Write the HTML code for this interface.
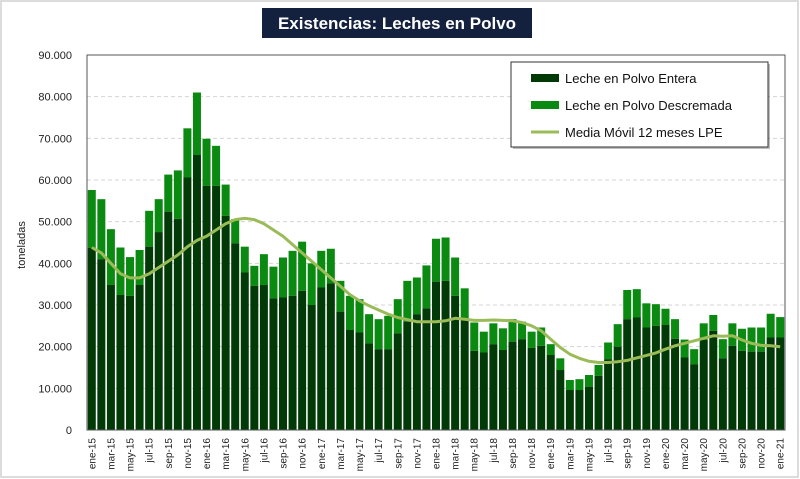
<!DOCTYPE html>
<html><head><meta charset="utf-8"><style>
body{margin:0;background:#fff;font-family:"Liberation Sans",sans-serif}
#wrap{position:relative;width:800px;height:479px;background:#fff;overflow:hidden}
</style></head><body>
<div id="wrap">
<svg id="chart" width="800" height="479" xmlns="http://www.w3.org/2000/svg"></svg>
</div>
<script>
const categories=["ene-15","feb-15","mar-15","abr-15","may-15","jun-15","jul-15","ago-15","sep-15","oct-15","nov-15","dic-15",
"ene-16","feb-16","mar-16","abr-16","may-16","jun-16","jul-16","ago-16","sep-16","oct-16","nov-16","dic-16",
"ene-17","feb-17","mar-17","abr-17","may-17","jun-17","jul-17","ago-17","sep-17","oct-17","nov-17","dic-17",
"ene-18","feb-18","mar-18","abr-18","may-18","jun-18","jul-18","ago-18","sep-18","oct-18","nov-18","dic-18",
"ene-19","feb-19","mar-19","abr-19","may-19","jun-19","jul-19","ago-19","sep-19","oct-19","nov-19","dic-19",
"ene-20","feb-20","mar-20","abr-20","may-20","jun-20","jul-20","ago-20","sep-20","oct-20","nov-20","dic-20","ene-21"];
const entera=[43.7,41,34.8,32.4,32.2,34.8,44,47.5,52.4,50.7,60.6,66,
58.6,58.6,51.4,44.8,37.8,34.6,34.8,31.6,31.8,32.2,33.4,30,
34.2,35.2,28.4,24,23.4,20.8,19.4,19.4,23.2,26,27.8,29.2,
35.6,35.8,32.2,26.4,19,18.6,20.6,19.2,21.2,21.8,19.7,20.2,
18,14.4,9.6,9.6,10.4,13,17,20,26.6,27,24.6,25,
25.2,21.9,17.4,15.8,21.6,23.8,17.2,20.2,19,18.8,18.8,22.2,22.2];
const total=[57.6,55.4,48.2,43.8,41.5,43.2,52.6,55.4,61.3,62.3,72.4,81,
69.9,68.2,58.9,50.6,44,39.4,42.2,39.2,41.4,43,45.2,40,
43,43.5,35.8,32.2,31.4,27.8,26.6,27.4,31.4,35.8,36.6,39.5,
45.9,46.2,41.4,34,25.8,23.6,25.6,24.4,26.6,26,23.6,24.6,
20.6,17.2,12,12.2,13.2,15.6,21,25.4,33.6,33.8,30.4,30.2,
29.1,26.6,21.7,19.4,25.6,27.6,21.8,25.6,24.3,24.6,24.6,27.9,27.1];
const mediaMovil=[43.8,42.5,40,37.5,36.5,36.5,37.5,39,40.5,42,44,45.5,
46.5,48,49.5,50.5,50.8,50.5,49.5,48,46.5,44.5,42.5,40.5,
38.5,36.5,34.5,32.5,31,29.8,28.8,27.8,27,26.5,26,26,
26,26.2,26.8,26.6,26.3,26.3,26.4,26.3,26.2,25.8,25,23.8,
21.8,19.8,18.2,17.2,16.5,16.2,16.2,16.4,16.7,17.3,17.9,18.5,
19.4,20.2,20.8,21.4,22,22.6,22.5,22.6,21.6,20.8,20.3,20.2,20];
const yTicks=[0,10,20,30,40,50,60,70,80,90];
const yTickLabels=["0","10.000","20.000","30.000","40.000","50.000","60.000","70.000","80.000","90.000"];

const NS="http://www.w3.org/2000/svg";
const svg=document.getElementById('chart');
const L=87,R=785,T=55,B=430;
const step=(R-L)/categories.length;
const bw=8;
function xc(i){return L+step*(i+0.5);}
function y(v){return B-(v/90)*(B-T);}
function mk(tag,attrs,parent){const e=document.createElementNS(NS,tag);for(const k in attrs)e.setAttribute(k,attrs[k]);(parent||svg).appendChild(e);return e;}

// outer frame
let e=mk('rect',{x:1,y:1,width:797,height:476,fill:'#fff',stroke:'#d0d0d0','stroke-width':1.5});



// title
e=mk('rect',{x:262,y:8,width:270,height:30,fill:'#13213f'});


e=mk('text',{x:397,y:29,'text-anchor':'middle',fill:'#fff','font-size':17,'font-weight':'bold','font-family':'"Liberation Sans",sans-serif'});
e.textContent='Existencias:  Leches en Polvo';



// grid + y labels
yTicks.forEach((t,i)=>{
  if(t>0&&t<90){const g=mk('line',{x1:L,x2:R,y1:y(t),y2:y(t),stroke:'#d4d4d4','stroke-dasharray':'4,3','stroke-width':1});
  
  }
  const tx=mk('text',{x:72,y:y(t)+4,'text-anchor':'end','font-size':11,fill:'#222'});
  tx.textContent=yTickLabels[i];
  
  
});
e=mk('text',{x:0,y:0,transform:'translate(25,245) rotate(-90)','text-anchor':'middle','font-size':11,fill:'#222'});
e.textContent='toneladas';



// bars
categories.forEach((c,i)=>{
  const x=xc(i)-bw/2;
  const b1=mk('rect',{x:x,y:y(total[i]),width:bw,height:y(entera[i])-y(total[i]),fill:'#0a8a10'});
  
  
  const b2=mk('rect',{x:x,y:y(entera[i]),width:bw,height:B-y(entera[i]),fill:'#013a07'});
  
  
  if(i%2===0){
    const t=mk('text',{x:0,y:0,transform:`translate(${xc(i)+3.5},438) rotate(-90)`,'text-anchor':'end','font-size':10,fill:'#222'});
    t.textContent=c;
    
    
  }
});
// moving average line
let d=mediaMovil.map((v,i)=>(i?'L':'M')+xc(i).toFixed(1)+','+y(v).toFixed(1)).join(' ');
e=mk('path',{d:d,fill:'none',stroke:'#9bbb59','stroke-width':3,'stroke-linejoin':'round'});



// plot border
e=mk('rect',{x:L,y:T,width:R-L,height:B-T,fill:'none',stroke:'#555','stroke-width':1});



// legend
const lg=mk('g',{});


mk('rect',{x:513,y:64,width:257,height:85,fill:'#000',opacity:0.25},lg);
mk('rect',{x:511,y:62,width:257,height:85,fill:'#fff',stroke:'#333','stroke-width':1},lg);
const items=[['Leche en Polvo Entera','#013a07','rect'],['Leche en Polvo Descremada','#0a8a10','rect'],['Media Móvil 12 meses LPE','#9bbb59','line']];
items.forEach((it,k)=>{
  const yy=78+k*27;
  const g=mk('g',{},lg);
  
  
  if(it[2]==='rect')mk('rect',{x:531,y:yy-4,width:28,height:8,fill:it[1]},g);
  else mk('line',{x1:531,x2:559,y1:yy,y2:yy,stroke:it[1],'stroke-width':3},g);
  const t=mk('text',{x:565,y:yy+5,'font-size':13,fill:'#111'},g);
  t.textContent=it[0];
});
</script>
</body></html>
